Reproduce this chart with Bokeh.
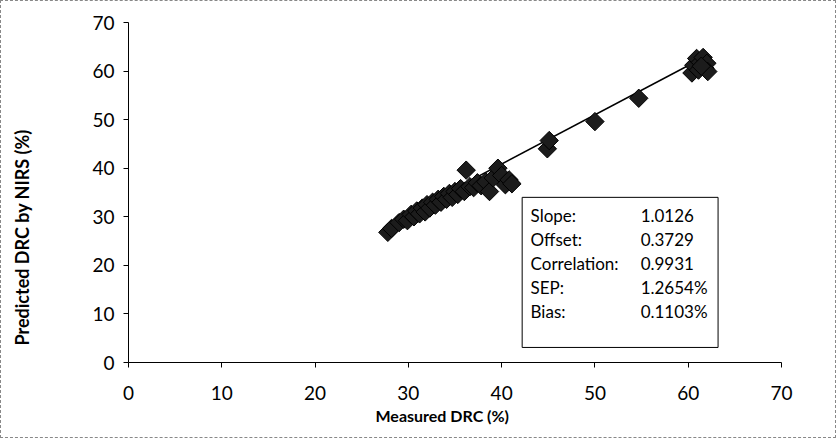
import math
from bokeh.plotting import figure
from bokeh.models import Range1d, Label, BoxAnnotation, FixedTicker, Title
from bokeh.embed import file_html
from bokeh.resources import INLINE

# ---- data ----
x_ticks = [0, 10, 20, 30, 40, 50, 60, 70]
y_ticks = [0, 10, 20, 30, 40, 50, 60, 70]

measured = [27.8, 28.2, 29.0, 29.5, 29.9, 30.3, 30.6, 30.9, 31.2, 31.5,
            31.8, 32.0, 32.3, 32.6, 32.9, 33.2, 33.5, 33.8, 34.1, 34.4,
            34.7, 35.0, 35.3, 35.6, 36.0, 36.2, 36.6, 37.0, 37.4, 37.8,
            38.3, 38.7, 39.1, 39.6, 40.0, 40.4, 40.8, 41.1, 44.9, 45.1,
            50.0, 54.7, 60.4, 60.6, 60.9, 61.1, 61.3, 61.6, 61.8, 62.0,
            62.1, 61.4]
predicted = [26.8, 27.6, 28.8, 29.5, 29.2, 30.5, 30.0, 31.2, 30.6, 31.8,
             31.0, 32.5, 31.8, 33.0, 32.4, 33.6, 33.0, 34.2, 33.6, 34.8,
             34.0, 35.2, 34.6, 35.8, 35.2, 39.6, 36.2, 36.0, 37.0, 36.4,
             37.2, 35.2, 38.0, 40.0, 38.5, 36.6, 37.6, 36.8, 44.0, 45.7,
             49.6, 54.4, 59.6, 61.2, 62.6, 60.2, 61.8, 62.8, 60.6, 61.6,
             59.9, 61.0]

slope = 1.0126
offset = 0.3729

stat_names = ["Slope:", "Offset:", "Correlation:", "SEP:", "Bias:"]
stat_values = ["1.0126", "0.3729", "0.9931", "1.2654%", "0.1103%"]

x_title = "Measured DRC (%)"
y_title = "Predicted DRC  by NIRS (%)"

FONT = "Lato"

p = figure(width=836, height=438, output_backend="svg", toolbar_location=None,
           x_range=Range1d(0, 70), y_range=Range1d(0, 70),
           min_border_left=127, min_border_right=56,
           min_border_top=21, min_border_bottom=77)
p.styles = {"border": "1px dashed #888888"}
p.background_fill_color = "white"
p.border_fill_color = "white"
p.outline_line_color = None
p.xgrid.visible = False
p.ygrid.visible = False

for ax, ticks in ((p.xaxis, x_ticks), (p.yaxis, y_ticks)):
    ax.ticker = FixedTicker(ticks=ticks)
    ax.major_label_text_font = FONT
    ax.major_label_text_font_size = "19px"
    ax.major_label_text_color = "black"
    ax.major_tick_out = 5
    ax.major_tick_in = 0
    ax.minor_tick_out = 0
    ax.minor_tick_in = 0
    ax.axis_line_color = "black"
    ax.major_tick_line_color = "black"
p.xaxis.major_label_standoff = 18
p.yaxis.major_label_standoff = 9
# blank axis label used only as spacing between tick labels and the y title
p.yaxis.axis_label = " "
p.yaxis.axis_label_text_font_size = "1px"
p.yaxis.axis_label_standoff = 53

# axis titles
p.add_layout(Title(text=x_title, align="left", offset=247, standoff=2,
                   text_font=FONT, text_font_size="16px", text_font_style="bold",
                   text_color="black"), "below")
p.add_layout(Title(text=y_title, align="left", offset=17, standoff=0,
                   text_font=FONT, text_font_size="18px", text_font_style="bold",
                   text_color="black"), "left")

# regression line
x0, x1 = min(measured), max(measured)
p.line([x0, x1], [slope * x0 + offset, slope * x1 + offset], line_color="black", line_width=1.5)

p.scatter(measured, predicted, marker="square", angle=math.pi / 4, size=13,
          fill_color="#1c1c1c", line_color="black", line_width=1)

# stats box
p.add_layout(BoxAnnotation(left=42.2, right=63.2, bottom=3.1, top=34.0,
                           fill_color="white", fill_alpha=1.0,
                           line_color="black", line_width=1, line_alpha=1.0))
for i, (n, v) in enumerate(zip(stat_names, stat_values)):
    yy = 30.3 - i * 4.95
    p.add_layout(Label(x=43.1, y=yy, text=n, text_font=FONT, text_font_size="17px",
                       text_baseline="middle", text_align="left", text_color="black"))
    p.add_layout(Label(x=54.9, y=yy, text=v, text_font=FONT, text_font_size="17px",
                       text_baseline="middle", text_align="left", text_color="black"))

open("out.html", "w").write(file_html(p, INLINE))
